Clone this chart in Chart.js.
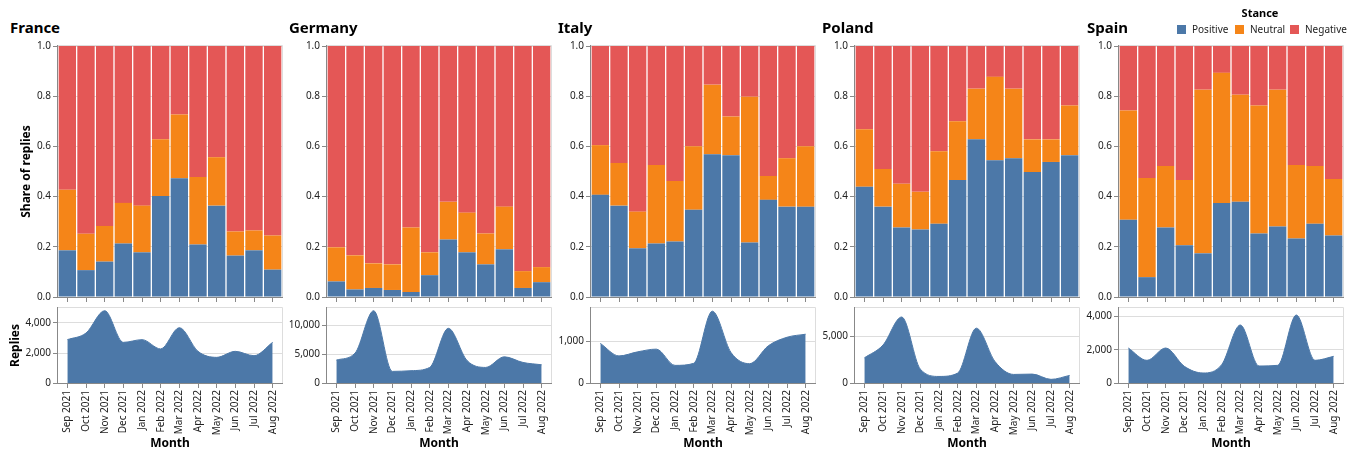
<!DOCTYPE html>
<html>
<head>
<meta charset="utf-8">
<script src="https://cdn.jsdelivr.net/npm/chart.js@4.4.1/dist/chart.umd.min.js"></script>
<style>
  body { margin: 0; background: #fff; font-family: "Noto Sans", sans-serif; }
  #wrap { position: relative; width: 1356px; height: 453px; overflow: hidden; }
  #wrap canvas { position: absolute; }
  .facet-title { position: absolute; top: 20px; font-size: 15px; line-height: 15px; font-weight: bold; color: #000; }
  .legend-title { position: absolute; left: 1176px; top: 6px; width: 168px; text-align: center; font-size: 11px; font-weight: bold; line-height: 13px; }
  .legend-item { position: absolute; top: 23px; font-size: 10px; line-height: 12px; color: #222; white-space: nowrap; }
  .legend-item i { display: inline-block; width: 9px; height: 9px; margin-right: 6px; vertical-align: -1px; }
</style>
</head>
<body>
<div id="wrap"></div>
<script>
const MONTHS = ["Sep 2021", "Oct 2021", "Nov 2021", "Dec 2021", "Jan 2022", "Feb 2022",
  "Mar 2022", "Apr 2022", "May 2022", "Jun 2022", "Jul 2022", "Aug 2022"];
const COUNTRIES = ["France", "Germany", "Italy", "Poland", "Spain"];
const STANCES = ["Positive", "Neutral", "Negative"];

// share of replies per stance, one value per month
const FRANCE_POSITIVE = [0.186, 0.107, 0.141, 0.213, 0.178, 0.402, 0.473, 0.209, 0.364, 0.165, 0.186, 0.109];
const FRANCE_NEUTRAL = [0.241, 0.145, 0.142, 0.162, 0.186, 0.226, 0.254, 0.269, 0.193, 0.096, 0.079, 0.136];
const FRANCE_NEGATIVE = [0.573, 0.748, 0.717, 0.625, 0.636, 0.372, 0.273, 0.522, 0.443, 0.739, 0.735, 0.755];

const GERMANY_POSITIVE = [0.062, 0.030, 0.036, 0.028, 0.020, 0.087, 0.229, 0.178, 0.130, 0.190, 0.036, 0.059];
const GERMANY_NEUTRAL = [0.136, 0.136, 0.098, 0.102, 0.257, 0.091, 0.150, 0.158, 0.123, 0.170, 0.067, 0.060];
const GERMANY_NEGATIVE = [0.802, 0.834, 0.866, 0.870, 0.723, 0.822, 0.621, 0.664, 0.747, 0.640, 0.897, 0.881];

const ITALY_POSITIVE = [0.407, 0.364, 0.194, 0.213, 0.221, 0.348, 0.569, 0.565, 0.217, 0.387, 0.360, 0.360];
const ITALY_NEUTRAL = [0.198, 0.170, 0.146, 0.313, 0.241, 0.253, 0.277, 0.154, 0.581, 0.095, 0.193, 0.241];
const ITALY_NEGATIVE = [0.395, 0.466, 0.660, 0.474, 0.538, 0.399, 0.154, 0.281, 0.202, 0.518, 0.447, 0.399];

const POLAND_POSITIVE = [0.439, 0.360, 0.277, 0.269, 0.292, 0.466, 0.628, 0.545, 0.553, 0.498, 0.538, 0.565];
const POLAND_NEUTRAL = [0.229, 0.150, 0.174, 0.150, 0.289, 0.234, 0.202, 0.332, 0.277, 0.130, 0.090, 0.198];
const POLAND_NEGATIVE = [0.332, 0.490, 0.549, 0.581, 0.419, 0.300, 0.170, 0.123, 0.170, 0.372, 0.372, 0.237];

const SPAIN_POSITIVE = [0.308, 0.079, 0.277, 0.206, 0.174, 0.375, 0.379, 0.253, 0.281, 0.233, 0.292, 0.245];
const SPAIN_NEUTRAL = [0.435, 0.395, 0.245, 0.260, 0.652, 0.518, 0.427, 0.510, 0.545, 0.293, 0.230, 0.225];
const SPAIN_NEGATIVE = [0.257, 0.526, 0.478, 0.534, 0.174, 0.107, 0.194, 0.237, 0.174, 0.474, 0.478, 0.530];

// number of replies per month
const FRANCE_REPLIES = [2890, 3330, 4820, 2710, 2890, 2270, 3690, 2110, 1710, 2110, 1820, 2710];
const GERMANY_REPLIES = [3970, 5170, 12530, 2010, 2130, 2700, 9480, 3910, 2700, 4540, 3560, 3160];
const ITALY_REPLIES = [951, 650, 748, 813, 423, 472, 1724, 732, 463, 894, 1098, 1171];
const POLAND_REPLIES = [2680, 4050, 7040, 1480, 700, 1060, 5850, 2290, 915, 951, 387, 810];
const SPAIN_REPLIES = [2100, 1360, 2100, 1000, 600, 1100, 3480, 1020, 1060, 4080, 1360, 1600];

// replies axis per country
const REPLIES_MAX = [5000, 13000, 1800, 8000, 4500];
const REPLIES_STEP = [2000, 5000, 1000, 5000, 2000];

const SHARES = {
  France: [FRANCE_POSITIVE, FRANCE_NEUTRAL, FRANCE_NEGATIVE],
  Germany: [GERMANY_POSITIVE, GERMANY_NEUTRAL, GERMANY_NEGATIVE],
  Italy: [ITALY_POSITIVE, ITALY_NEUTRAL, ITALY_NEGATIVE],
  Poland: [POLAND_POSITIVE, POLAND_NEUTRAL, POLAND_NEGATIVE],
  Spain: [SPAIN_POSITIVE, SPAIN_NEUTRAL, SPAIN_NEGATIVE],
};
const REPLIES = {
  France: FRANCE_REPLIES,
  Germany: GERMANY_REPLIES,
  Italy: ITALY_REPLIES,
  Poland: POLAND_REPLIES,
  Spain: SPAIN_REPLIES,
};

const COLORS = ["#4c78a8", "#f58518", "#e45756"];

// layout
const PLOT_LEFT = [58, 327, 591, 855, 1119];
const TITLE_LEFT = [10, 289, 558, 822, 1087];
const AXIS_W = 58;
const PLOT_W = 224;
const PAD_R = 10;

Chart.defaults.font.family = '"Noto Sans", sans-serif';
Chart.defaults.font.size = 10;
Chart.defaults.color = "#222";

// light cell border behind the marks, grey domain lines on top of them
const framePlugin = {
  id: "frame",
  beforeDatasetsDraw(chart) {
    const { ctx, chartArea: a } = chart;
    ctx.save();
    ctx.strokeStyle = "#ddd";
    ctx.lineWidth = 1;
    ctx.beginPath();
    ctx.moveTo(a.left, a.top - 0.5);
    ctx.lineTo(a.right + 0.5, a.top - 0.5);
    ctx.lineTo(a.right + 0.5, a.bottom);
    ctx.stroke();
    ctx.restore();
  },
  afterDatasetsDraw(chart) {
    const { ctx, chartArea: a } = chart;
    ctx.save();
    ctx.strokeStyle = "#888";
    ctx.lineWidth = 1;
    ctx.beginPath();
    ctx.moveTo(a.left - 0.5, a.top - 1);
    ctx.lineTo(a.left - 0.5, a.bottom + 0.5);
    ctx.lineTo(a.right + 1, a.bottom + 0.5);
    ctx.stroke();
    ctx.restore();
  },
};
Chart.register(framePlugin);

const wrap = document.getElementById("wrap");

function addCanvas(left, top, width, height) {
  const canvas = document.createElement("canvas");
  canvas.width = width;
  canvas.height = height;
  canvas.style.left = left + "px";
  canvas.style.top = top + "px";
  canvas.style.width = width + "px";
  canvas.style.height = height + "px";
  wrap.appendChild(canvas);
  return canvas;
}

function axisTitle(text, padTop) {
  return {
    display: true,
    text: text,
    color: "#000",
    font: { size: 12, weight: "bold" },
    padding: { top: padTop, bottom: 0 },
  };
}

function shareChart(i) {
  const country = COUNTRIES[i];
  const canvas = addCanvas(PLOT_LEFT[i] - AXIS_W, 0, AXIS_W + PLOT_W + PAD_R, 305);
  return new Chart(canvas, {
    type: "bar",
    data: {
      labels: MONTHS,
      datasets: STANCES.map((s, k) => ({
        label: s,
        data: SHARES[country][k],
        backgroundColor: COLORS[k],
        borderWidth: 0,
        barPercentage: 1,
        categoryPercentage: 0.93,
      })),
    },
    options: {
      responsive: false,
      animation: false,
      devicePixelRatio: 1,
      locale: "en-US",
      layout: { padding: { top: 46, right: PAD_R, bottom: 0, left: 0 } },
      plugins: { legend: { display: false }, tooltip: { enabled: false } },
      scales: {
        x: {
          stacked: true,
          offset: true,
          grid: { drawOnChartArea: false, offset: false, tickLength: 5, tickColor: "#888" },
          border: { display: false },
          ticks: { display: false },
          afterFit: (s) => { s.height = 6; },
        },
        y: {
          stacked: true,
          min: 0,
          max: 1,
          ticks: { stepSize: 0.2, padding: 2, callback: (v) => v.toFixed(1) },
          grid: { color: "#ddd", tickColor: "#888", tickLength: 5 },
          border: { display: false },
          title: i === 0 ? axisTitle("Share of replies", 19.8) : { display: false },
          afterFit: (s) => { s.width = AXIS_W; },
        },
      },
    },
  });
}

function repliesChart(i) {
  const country = COUNTRIES[i];
  const canvas = addCanvas(PLOT_LEFT[i] - AXIS_W, 300, AXIS_W + PLOT_W + PAD_R, 153);
  return new Chart(canvas, {
    type: "line",
    data: {
      labels: MONTHS,
      datasets: [{
        label: "Replies",
        data: REPLIES[country],
        fill: "origin",
        backgroundColor: "#4c78a8",
        borderColor: "#4c78a8",
        borderWidth: 1,
        pointRadius: 0,
        cubicInterpolationMode: "monotone",
      }],
    },
    options: {
      responsive: false,
      animation: false,
      devicePixelRatio: 1,
      locale: "en-US",
      layout: { padding: { top: 8, right: PAD_R, bottom: 0, left: 0 } },
      plugins: { legend: { display: false }, tooltip: { enabled: false } },
      scales: {
        x: {
          offset: true,
          grid: { drawOnChartArea: false, offset: false, tickLength: 5, tickColor: "#888" },
          border: { display: false },
          ticks: { autoSkip: false, minRotation: 90, maxRotation: 90, padding: 2 },
          title: {
            display: true,
            text: "Month",
            color: "#000",
            font: { size: 12, weight: "bold" },
            padding: { top: 0, bottom: 2.3 },
          },
          afterFit: (s) => { s.height = 70; },
        },
        y: {
          min: 0,
          max: REPLIES_MAX[i],
          ticks: { padding: 2 },
          // ticks on whole steps only, the domain top stays unlabelled
          afterBuildTicks: (s) => {
            const ticks = [];
            for (let v = 0; v <= REPLIES_MAX[i]; v += REPLIES_STEP[i]) ticks.push({ value: v });
            s.ticks = ticks;
          },
          grid: { color: "#ddd", tickColor: "#888", tickLength: 5 },
          border: { display: false },
          title: i === 0 ? axisTitle("Replies", 8.5) : { display: false },
          afterFit: (s) => { s.width = AXIS_W; },
        },
      },
    },
  });
}

COUNTRIES.forEach((country, i) => {
  const title = document.createElement("div");
  title.className = "facet-title";
  title.style.left = TITLE_LEFT[i] + "px";
  title.textContent = country;
  wrap.appendChild(title);

  shareChart(i);
  repliesChart(i);
});

// legend
const legendTitle = document.createElement("div");
legendTitle.className = "legend-title";
legendTitle.textContent = "Stance";
wrap.appendChild(legendTitle);

const LEGEND_LEFT = [1177, 1235, 1290];
STANCES.forEach((s, k) => {
  const item = document.createElement("div");
  item.className = "legend-item";
  item.style.left = LEGEND_LEFT[k] + "px";
  item.innerHTML = '<i style="background:' + COLORS[k] + '"></i>' + s;
  wrap.appendChild(item);
});
</script>
</body>
</html>
